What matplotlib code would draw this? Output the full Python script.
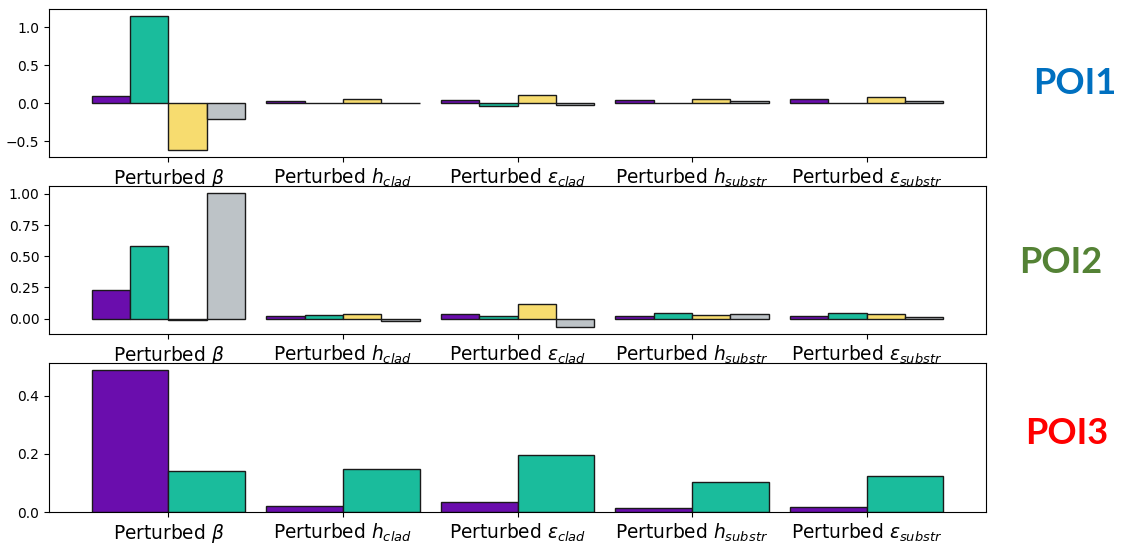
import matplotlib
matplotlib.use("Agg")
import matplotlib.pyplot as plt
import numpy as np

# Perturbed parameters (x-axis groups)
categories = [r"Perturbed $\beta$", r"Perturbed $h_{clad}$", r"Perturbed $\epsilon_{clad}$",
              r"Perturbed $h_{substr}$", r"Perturbed $\epsilon_{substr}$"]

# POI1 sensitivities, four series
poi1_s1 = [0.10, 0.03, 0.04, 0.035, 0.05]
poi1_s2 = [1.15, 0.003, -0.033, 0.005, 0.005]
poi1_s3 = [-0.62, 0.057, 0.112, 0.06, 0.08]
poi1_s4 = [-0.21, -0.004, -0.03, 0.033, 0.025]

# POI2 sensitivities, four series
poi2_s1 = [0.226, 0.019, 0.035, 0.024, 0.024]
poi2_s2 = [0.583, 0.027, 0.024, 0.043, 0.043]
poi2_s3 = [-0.008, 0.035, 0.118, 0.027, 0.035]
poi2_s4 = [1.01, -0.019, -0.069, 0.038, 0.016]

# POI3 sensitivities, two series
poi3_s1 = [0.488, 0.021, 0.033, 0.014, 0.018]
poi3_s2 = [0.142, 0.149, 0.196, 0.103, 0.124]

colors = ["#6A0DAD", "#1ABC9C", "#F7DC6F", "#BDC3C7"]
poi_labels = ["POI1", "POI2", "POI3"]
poi_colors = ["#0070C0", "#548235", "#FF0000"]

W, H = 1125, 544
fig = plt.figure(figsize=(W / 100, H / 100), dpi=100)

left = 49 / W
width = (986 - 49) / W
rows = [(9, 157), (186, 334), (363, 512)]
axes = []
for top, bot in rows:
    axes.append(fig.add_axes([left, 1 - bot / H, width, (bot - top) / H]))

x = np.arange(len(categories))


def grouped(ax, series, w):
    n = len(series)
    for i, vals in enumerate(series):
        ax.bar(x + (i - n / 2) * w, vals, width=w, align="edge",
               color=colors[i], edgecolor="#1a1a1a", linewidth=1)
    ax.set_xticks(x)
    ax.set_xticklabels(categories, fontsize=13.4)
    ax.tick_params(axis="y", labelsize=10)


grouped(axes[0], [poi1_s1, poi1_s2, poi1_s3, poi1_s4], 0.22)
grouped(axes[1], [poi2_s1, poi2_s2, poi2_s3, poi2_s4], 0.22)
grouped(axes[2], [poi3_s1, poi3_s2], 0.44)

axes[0].set_yticks([-0.5, 0.0, 0.5, 1.0])
axes[1].set_yticks([0.0, 0.25, 0.5, 0.75, 1.0])
axes[2].set_yticks([0.0, 0.2, 0.4])

centers_y = [83, 262, 433]
centers_x = [1075, 1061, 1067]
for lab, col, cx, cy in zip(poi_labels, poi_colors, centers_x, centers_y):
    fig.text(cx / W, 1 - cy / H, lab, color=col, fontsize=26, fontweight="bold",
             family=["Lato", "DejaVu Sans"], ha="center", va="center")

fig.savefig("out.png", dpi=100, facecolor="white")
